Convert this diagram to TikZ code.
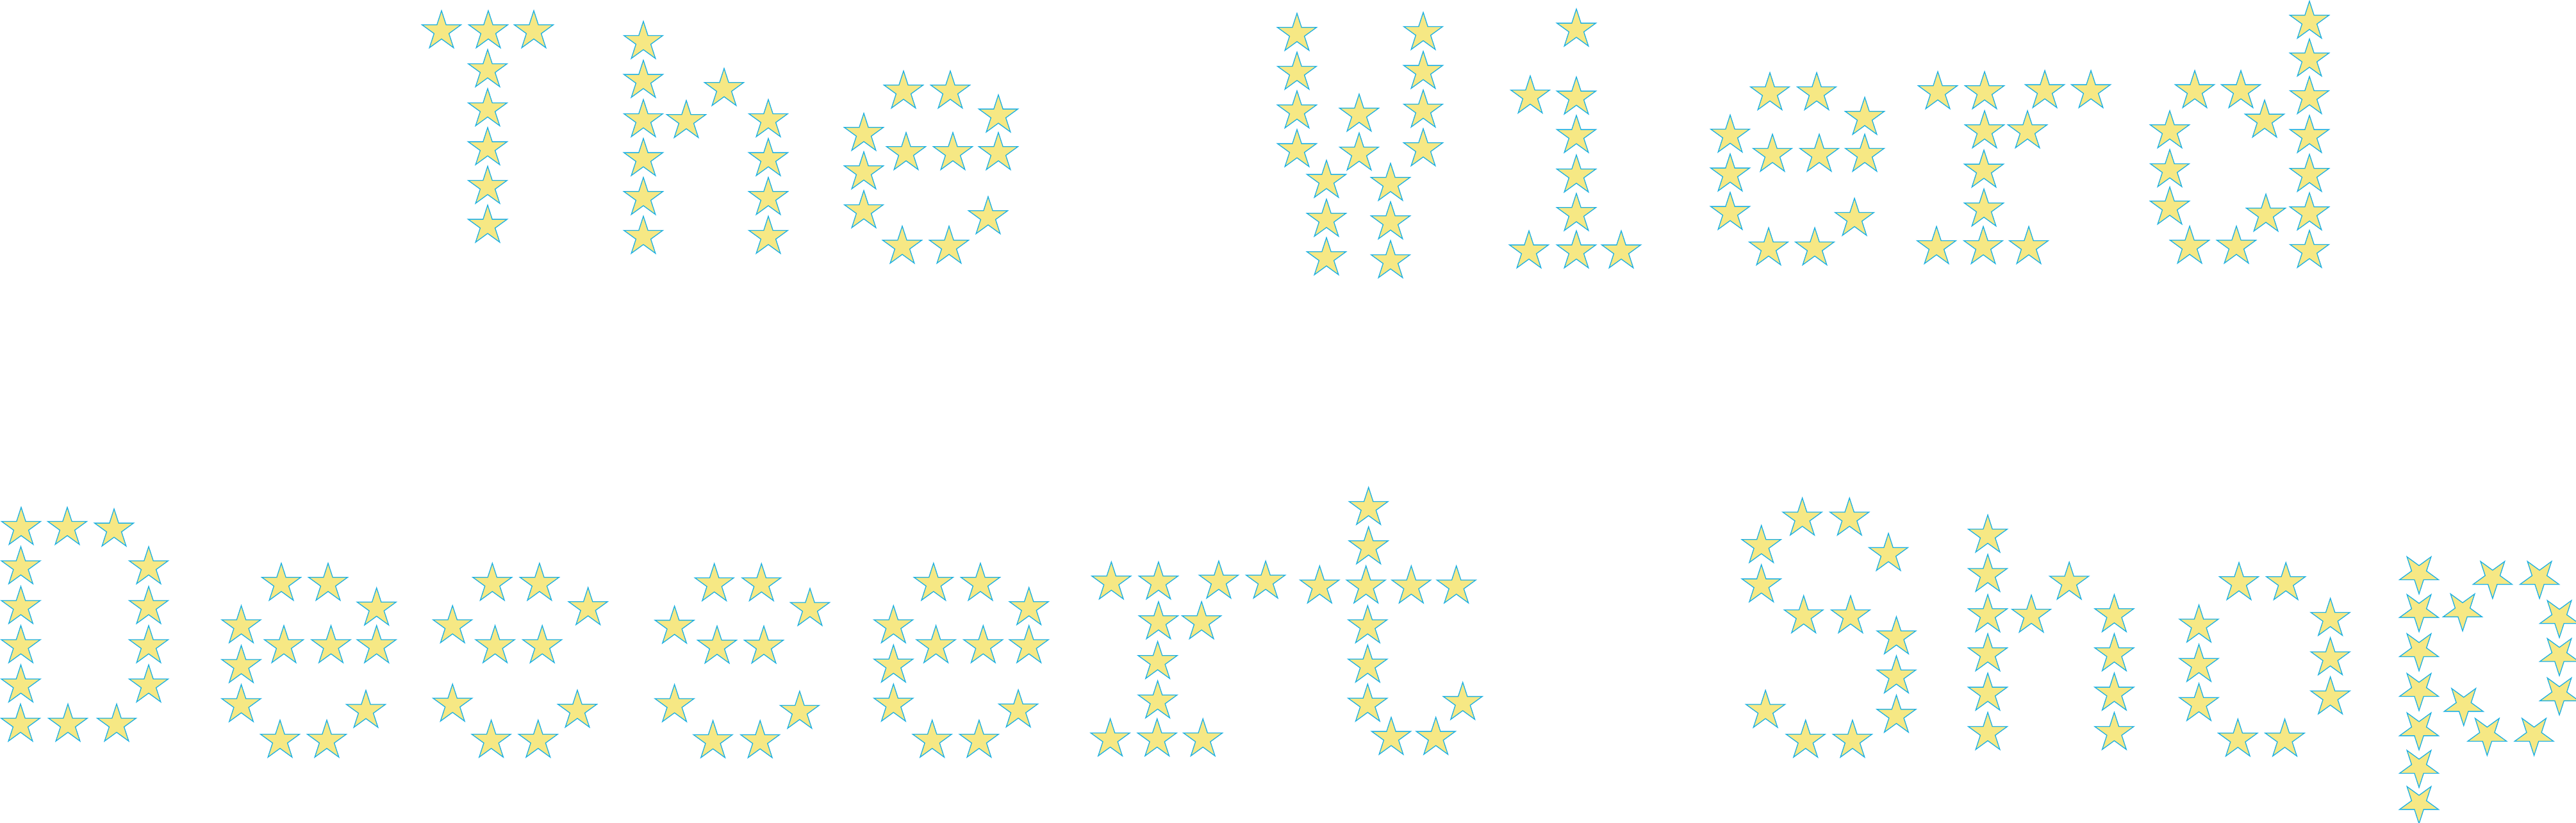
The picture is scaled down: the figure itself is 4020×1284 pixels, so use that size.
\documentclass[tikz,border=0pt]{standalone}
\definecolor{starfill}{RGB}{246,232,132}
\definecolor{starline}{RGB}{30,176,226}
\tikzset{
  starshape/.style={fill=starfill, draw=starline, line width=1.3pt, line join=miter},
  pics/upstar/.style={code={
    \path[starshape] (-90:32) -- (-54:12.2) -- (-18:32) -- (18:12.2) -- (54:32) -- (90:12.2)
      -- (126:32) -- (162:12.2) -- (198:32) -- (234:12.2) -- cycle;}},
  pics/downstar/.style={code={
    \path[starshape] (90:32) -- (126:12.2) -- (162:32) -- (198:12.2) -- (234:32) -- (270:12.2)
      -- (306:32) -- (342:12.2) -- (18:32) -- (54:12.2) -- cycle;}}
}
\begin{document}
\begin{tikzpicture}[x=1pt,y=-1pt]
\useasboundingbox (0,0) rectangle (4020,1284);
\fill[white] (0,0) rectangle (4020,1284);
% ---------- The ----------
\foreach \p in {(689,48.6),(762,48.6),(833,48.6),(761,109.3),(761,170.3),(761,231),(761,291.3),(761,352)}
  \pic at \p {upstar};
\foreach \p in {(1004,65.3),(1004,126),(1004,187.3),(1004,248),(1004,308.7),(1004,369.3),(1071,188.7),(1130,138.7),(1199,187.3),(1199,248),(1199,308.7),(1199,369.3)}
  \pic at \p {upstar};
\foreach \p in {(1410,142.7),(1483,142.7),(1558,180),(1348,208.7),(1348,268.7),(1348,329.3),(1414,238.7),(1487,238.7),(1558,238.7),(1542,338.7),(1408,384.7),(1481,384.7)}
  \pic at \p {upstar};
% ---------- Wierd ----------
\foreach \p in {(2024,52.7),(2024,113.3),(2024,173.7),(2024,234),(2070,282),(2070,342.7),(2070,402.7),(2121,178.7),(2121,239.3),(2170,286.7),(2170,346.7),(2170,407.3),(2221,51.3),(2221,112),(2221,172.3),(2221,232.7)}
  \pic at \p {upstar};
\foreach \p in {(2460,46),(2388,150.3),(2460,152),(2460,212),(2460,273.7),(2460,333.7),(2460,392),(2386,392),(2530,392)}
  \pic at \p {upstar};
\foreach \p in {(2762,145.3),(2835,145.3),(2910,183.7),(2700,211.3),(2700,272),(2700,332),(2766,241.3),(2839,241.3),(2910,241.3),(2894,341.3),(2760,387.3),(2832,387.3)}
  \pic at \p {upstar};
\foreach \p in {(3024,143.7),(3097,143.7),(3191,142),(3263,142),(3097,204.7),(3164,204.7),(3096,266),(3096,326.7),(3022,385.3),(3095,385.3),(3166,385.3)}
  \pic at \p {upstar};
\foreach \p in {(3425,142),(3497,142),(3534,188),(3386,204.7),(3386,265.3),(3386,323.7),(3604,33.7),(3604,92.7),(3604,151.3),(3604,212),(3604,272.7),(3604,332.7),(3604,391.3),(3536,334.7),(3417,384.7),(3490,384.7)}
  \pic at \p {upstar};
% ---------- Dessert ----------
\foreach \p in {(33,823.4),(105,823.4),(178,826),(32.5,884.8),(32.5,946.8),(32.5,1007.9),(32.5,1069.2),(232,884.8),(232,946.8),(232,1007.9),(232,1069.2),(32,1130.3),(106,1130.3),(182,1130.3)}
  \pic at \p {upstar};
\foreach \p in {(439,910.6),(512,910.6),(587.7,949.2),(376.5,976.8),(376.5,1038.9),(376.5,1099.9),(443,1007.9),(516.5,1007.9),(587.7,1007.9),(571,1108.9),(437,1155.4),(510,1155.4)}
  \pic at \p {upstar};
\foreach \p in {(768.3,910.6),(841.9,910.6),(917.7,948.6),(706.2,976.8),(772.6,1007.9),(846.2,1007.9),(706.2,1099.2),(901,1108.6),(766.6,1155.4),(839.8,1155.4)}
  \pic at \p {upstar};
\foreach \p in {(1114.7,911.3),(1188.3,911.3),(1264,949.9),(1052.6,977.5),(1119,1008.6),(1192,1008.6),(1052.6,1099.9),(1247.9,1110.3),(1112.6,1156.1),(1186.2,1156.1)}
  \pic at \p {upstar};
\foreach \p in {(1456.8,910.6),(1530,910.6),(1605.7,948.6),(1394.3,976.8),(1394.3,1038.2),(1394.3,1099.2),(1460.6,1007.9),(1534.3,1007.9),(1605.7,1007.9),(1589.1,1108.2),(1454.7,1155.4),(1527.9,1155.4)}
  \pic at \p {upstar};
\foreach \p in {(1734.3,908.6),(1807.9,908.6),(1901.9,907.2),(1975.1,907.2),(1807.9,970.6),(1875.1,970.6),(1806.6,1032.7),(1806.6,1094.1),(1732.6,1153.4),(1805.7,1153.4),(1877.2,1153.4)}
  \pic at \p {upstar};
\foreach \p in {(2135.7,792.3),(2135.7,853.7),(2059.3,914.8),(2131.7,914.8),(2202.3,914.8),(2272.7,914.8),(2134.3,976.8),(2134.3,1038.2),(2134.3,1099.2),(2171,1151),(2240.7,1151),(2282.7,1096.5)}
  \pic at \p {upstar};
% ---------- Shop ----------
\foreach \p in {(2812.6,808.9),(2886.2,808.9),(2748.7,851.7),(2947,864.1),(2748.7,913),(2814.7,961.3),(2887.9,961.3),(2959.4,994.1),(2959.4,1055.1),(2959.4,1116.5),(2755.1,1108.9),(2817.7,1155.4),(2890.9,1155.4)}
  \pic at \p {upstar};
\foreach \p in {(3102,835.4),(3102,896.8),(3102,959.6),(3102,1020.6),(3102,1082),(3102,1143.4),(3170,960.3),(3229.1,908.9),(3299.4,959.6),(3299.4,1020.6),(3299.4,1082),(3299.4,1143.4)}
  \pic at \p {upstar};
\foreach \p in {(3494,909.6),(3567.2,909.6),(3431.5,975.8),(3431.5,1037.2),(3431.5,1098.2),(3636.6,965.4),(3636.6,1026.8),(3636.6,1087.9),(3492.3,1153.7),(3565.5,1153.7)}
  \pic at \p {upstar};
\foreach \p in {(3775,894.6),(3775,953.5),(3775,1014.6),(3775,1076.6),(3775,1138),(3775,1196.6),(3775,1253),(3889.8,901.8),(3963,901.8),(3843,952.5),(3994,962.8),(3994,1022.1),(3994,1083.5),(3844.7,1100),(3881.3,1146.6),(3954.5,1146.6)}
  \pic at \p {downstar};
\end{tikzpicture}
\end{document}
